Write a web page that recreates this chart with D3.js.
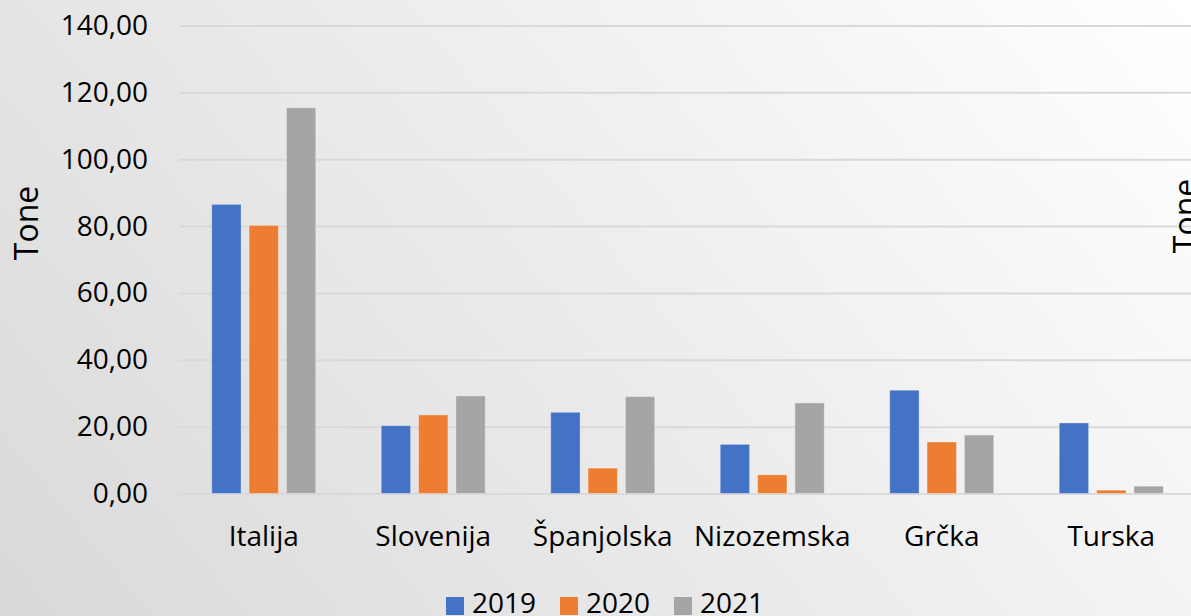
<!DOCTYPE html>
<html><head><meta charset="utf-8">
<script src="https://cdn.jsdelivr.net/npm/d3@7"></script>
<style>html,body{margin:0;padding:0;overflow:hidden;background:#fff}svg{display:block}</style>
</head><body>
<script>
const categories = ["Italija","Slovenija","Španjolska","Nizozemska","Grčka","Turska"];
const seriesNames = ["2019","2020","2021"];
const values2019 = [86.5, 20.3, 24.3, 14.7, 30.9, 21.1];
const values2020 = [80.2, 23.5, 7.6, 5.6, 15.4, 1.0];
const values2021 = [115.4, 29.2, 29.0, 27.1, 17.5, 2.2];
const yTicks = [0,20,40,60,80,100,120,140];
const colors = ["#4472c4","#ed7d31","#a5a5a5"];
const yTitle = "Tone";

const W = 1191, H = 616;
const font = "'Open Sans', sans-serif";
const svg = d3.select("body").append("svg").attr("width", W).attr("height", H);
const defs = svg.append("defs");
const grad = defs.append("linearGradient").attr("id","bg").attr("gradientUnits","userSpaceOnUse")
  .attr("x1",0).attr("y1",616).attr("x2",1009).attr("y2",-219);
grad.append("stop").attr("offset","0").attr("stop-color","#d9d9d9");
grad.append("stop").attr("offset","1").attr("stop-color","#ffffff");
svg.append("rect").attr("width",W).attr("height",H).attr("fill","url(#bg)");

const series = [values2019, values2020, values2021];
const x0 = d3.scaleBand().domain(categories).range([179, 1196]).paddingInner(0.386).paddingOuter(0.193);
const x1 = d3.scaleBand().domain(seriesNames).range([0, x0.bandwidth()]).paddingInner(0.213).paddingOuter(0);
const y = d3.scaleLinear().domain([0,140]).range([493.5, 25.5]);

// gridlines + tick labels
const gAxis = svg.append("g")
  .call(d3.axisLeft(y).tickValues(yTicks).tickSize(-(W-179)).tickFormat(d => d3.format(".2f")(d).replace(".", ",")))
  .attr("transform","translate(179,0)");
gAxis.select(".domain").remove();
gAxis.selectAll(".tick line").attr("stroke","#d9d9d9").attr("stroke-width",2);
gAxis.selectAll(".tick text").attr("x",-31).attr("font-family",font).attr("font-size",28).attr("fill","#000");

// bars
const groups = svg.append("g").selectAll("g").data(categories).join("g")
  .attr("transform", d => `translate(${x0(d)},0)`);
groups.selectAll("rect").data((c,i) => seriesNames.map((s,j) => ({s, v: series[j][i], c: colors[j]})))
  .join("rect")
  .attr("x", d => x1(d.s)).attr("width", x1.bandwidth())
  .attr("y", d => y(d.v)).attr("height", d => y(0) - y(d.v))
  .attr("fill", d => d.c).attr("stroke","rgba(255,255,255,0.35)").attr("stroke-width",1);

// category labels
const gx = svg.append("g").attr("transform","translate(0,493.5)")
  .call(d3.axisBottom(x0).tickSize(0).tickPadding(0));
gx.select(".domain").remove();
gx.selectAll(".tick text").attr("dy",0).attr("y",52).attr("font-family",font).attr("font-size",28).attr("fill","#000");

// y titles
svg.append("text").attr("transform","translate(38,223) rotate(-90)").attr("text-anchor","middle")
  .attr("font-family",font).attr("font-size",32).attr("fill","#000").text(yTitle);
svg.append("text").attr("transform","translate(1197,216) rotate(-90)").attr("text-anchor","middle")
  .attr("font-family",font).attr("font-size",32).attr("fill","#000").text(yTitle);

// legend
const legendX = [446, 560, 674];
const lg = svg.append("g").selectAll("g").data(seriesNames).join("g")
  .attr("transform",(d,i)=>`translate(${legendX[i]},597)`);
lg.append("rect").attr("width",18).attr("height",18).attr("fill",(d,i)=>colors[i]);
lg.append("text").attr("x",26).attr("y",16).attr("font-family",font).attr("font-size",28).attr("fill","#000").text(d=>d);
</script>
</body></html>
